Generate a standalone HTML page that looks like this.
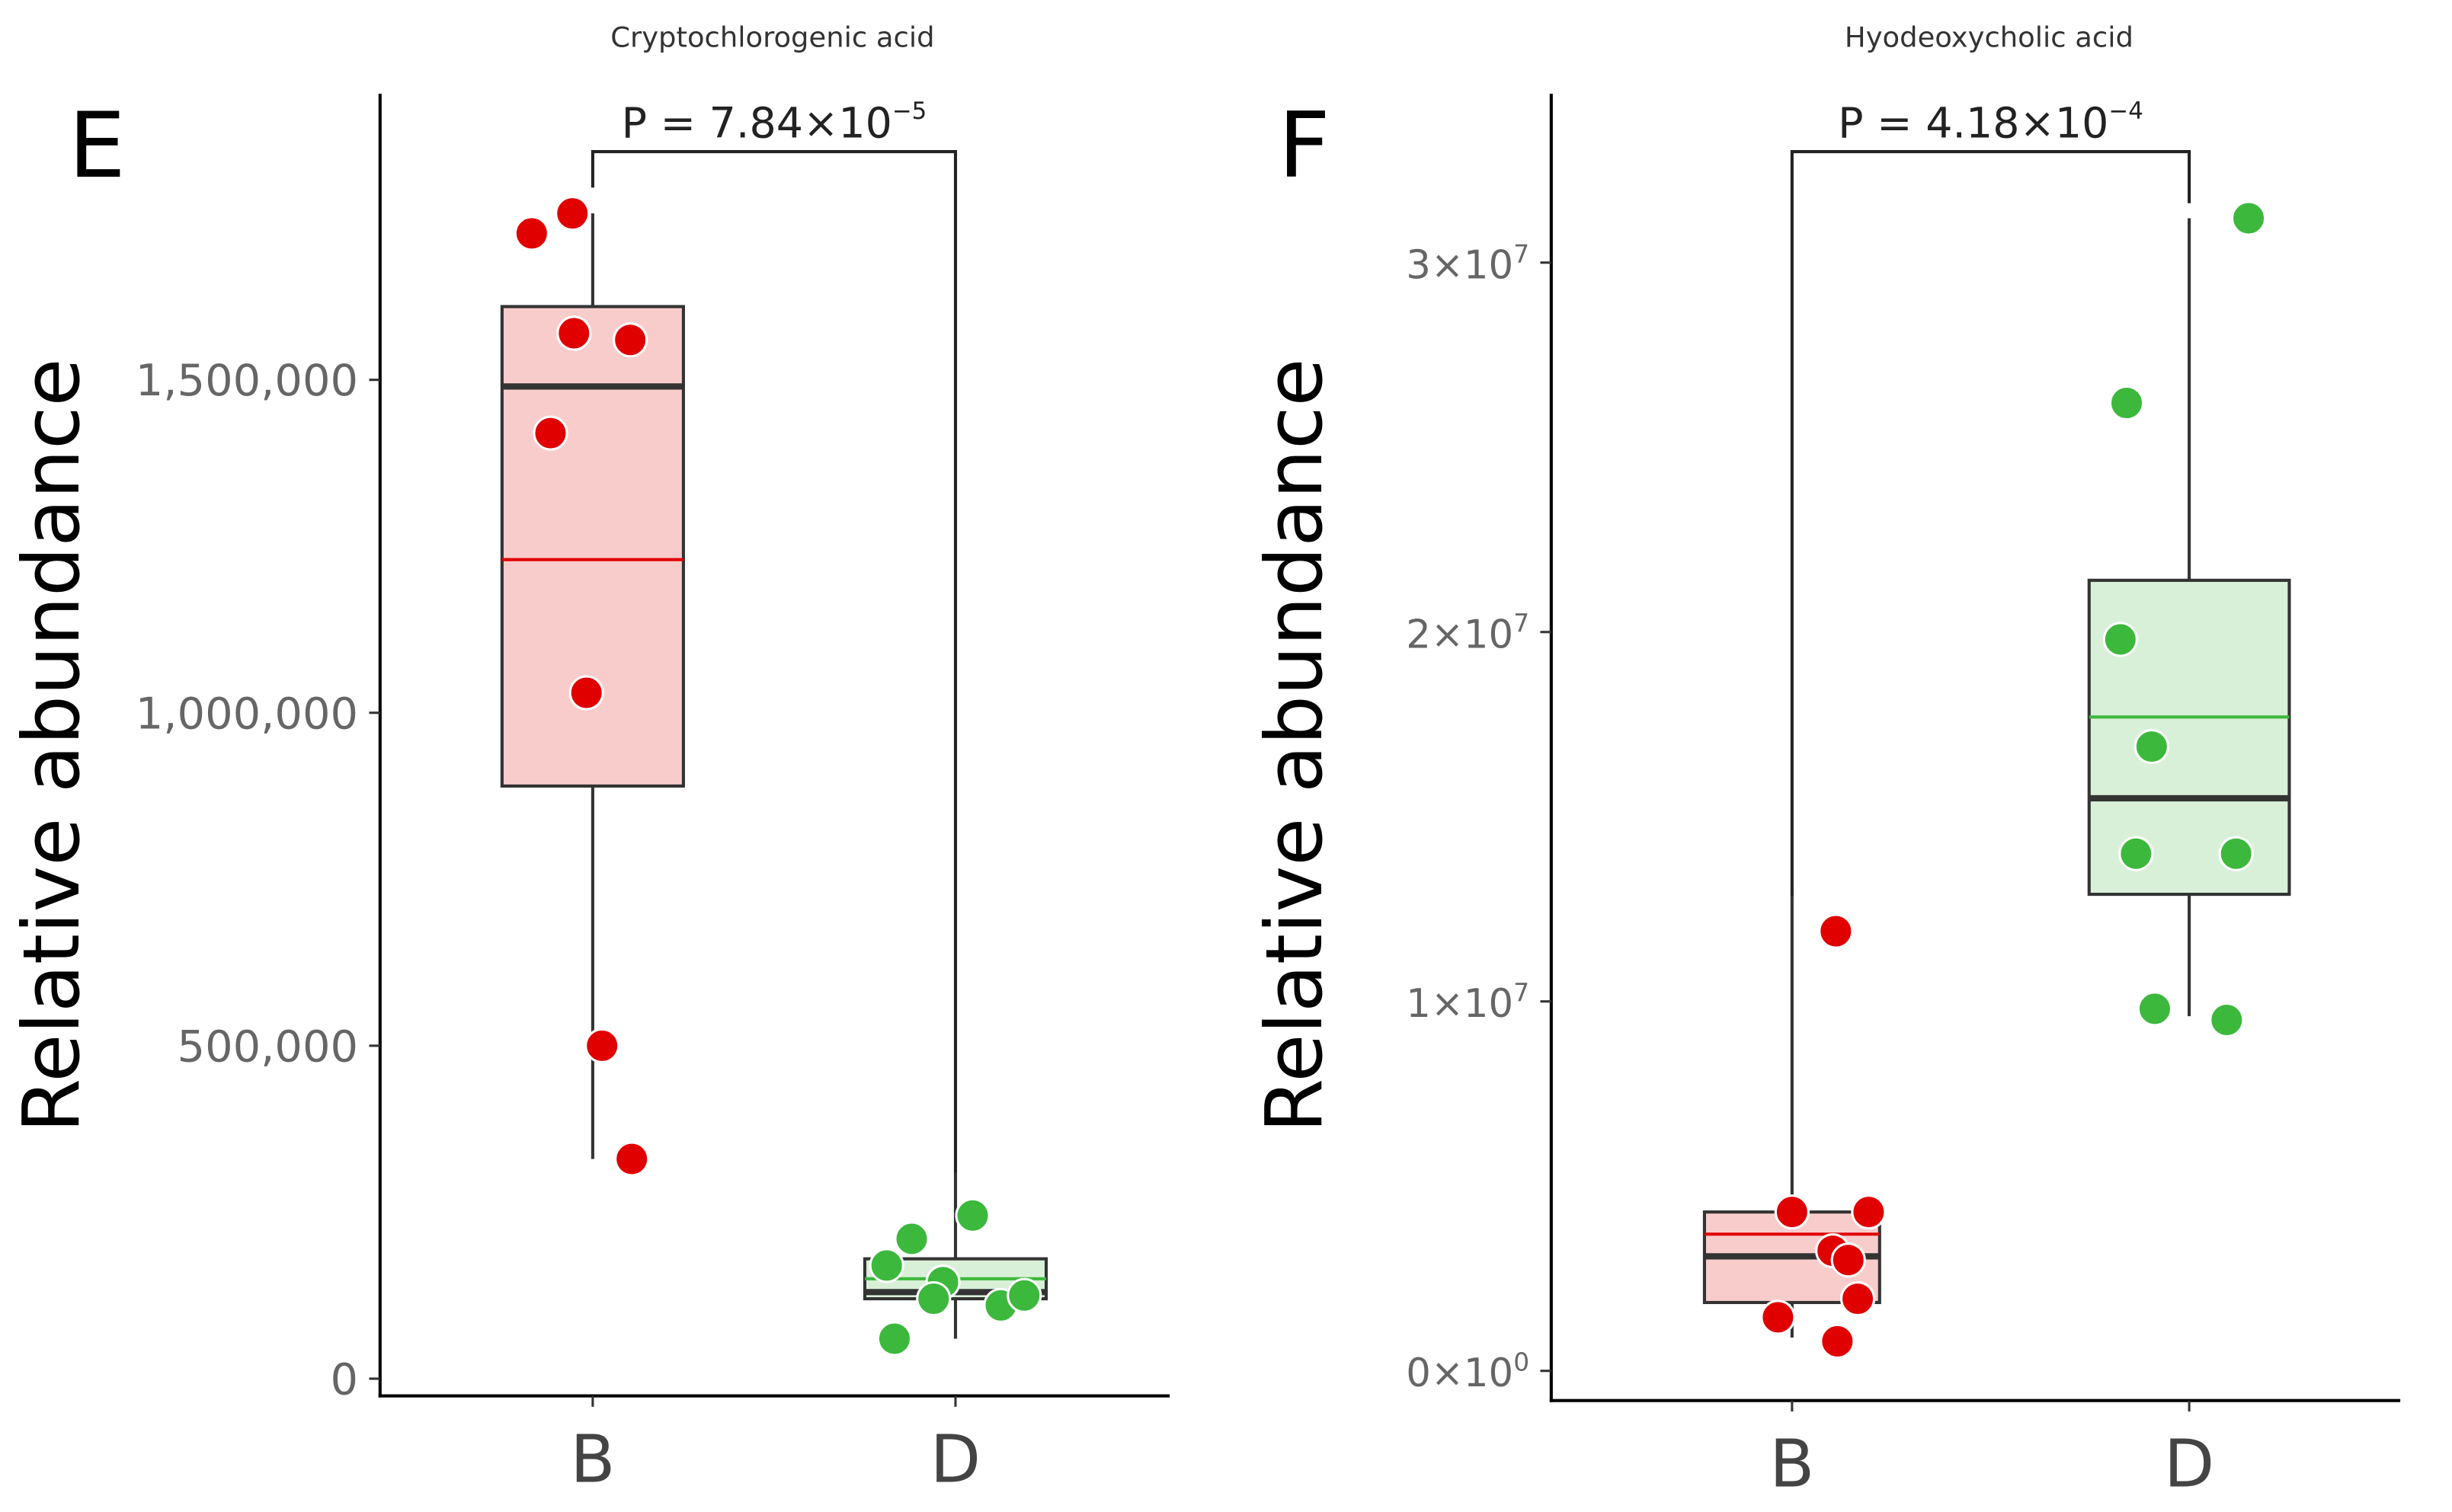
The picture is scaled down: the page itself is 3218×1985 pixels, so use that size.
<!DOCTYPE html>
<html><head><meta charset="utf-8"><style>
html,body{margin:0;padding:0;background:#fff;}
svg{display:block;font-family:"DejaVu Sans","Liberation Sans",sans-serif;}
</style></head><body>
<svg id="chart" width="3218" height="1985" viewBox="0 0 1568 967.3" xmlns="http://www.w3.org/2000/svg"></svg>
<script>
// Panel E data
const eCategories = ["B", "D"];
const eTicks = [0, 500000, 1000000, 1500000];
const eTickLabels = ["0", "500,000", "1,000,000", "1,500,000"];
const eBoxB = [330000, 890000, 1490000, 1610000, 1750000];
const eMeanB = 1230000;
const eBoxD = [60000, 120000, 130000, 180000, 310000];
const eMeanD = 150000;
const ePointsB = [1720000, 1750000, 1570000, 1560000, 1420000, 1030000, 500000, 330000];
const ePointsD = [245000, 210000, 170000, 145000, 120000, 110000, 125000, 60000];
// Panel F data
const fCategories = ["B", "D"];
const fTicks = [0, 10000000, 20000000, 30000000];
const fTickMant = ["0", "1", "2", "3"];
const fTickExp = ["0", "7", "7", "7"];
const fBoxB = [900000, 1850000, 3100000, 4300000, 12900000];
const fMeanB = 3700000;
const fBoxD = [9600000, 12900000, 15500000, 21400000, 31200000];
const fMeanD = 17700000;
const fPointsB = [11900000, 4300000, 4300000, 3250000, 3000000, 1950000, 1450000, 800000];
const fPointsD = [31200000, 26200000, 19800000, 16900000, 14000000, 14000000, 9800000, 9500000];

const NS = "http://www.w3.org/2000/svg";
const svg = document.getElementById("chart");
function mk(tag, attrs, parent) {
  const el = document.createElementNS(NS, tag);
  for (const k in attrs) el.setAttribute(k, attrs[k]);
  (parent || svg).appendChild(el);
  return el;
}

function panel(cfg) {
  const g = mk("g", {});
  
  
  const y = v => cfg.y0 + (v - 0) * (cfg.y1 - cfg.y0) / cfg.v1;
  const xc = i => cfg.xs[i];
  const ya = mk("line", {x1: cfg.ax, y1: cfg.top, x2: cfg.ax, y2: cfg.bot + 1, stroke: "#000", "stroke-width": 2}, g);
  
  
  const xa = mk("line", {x1: cfg.ax - 1, y1: cfg.bot, x2: cfg.right, y2: cfg.bot, stroke: "#000", "stroke-width": 2}, g);
  
  
  cfg.ticks.forEach((t, i) => {
    const ty = y(t);
    const tk = mk("line", {x1: cfg.ax - 7, y1: ty, x2: cfg.ax, y2: ty, stroke: "#333", "stroke-width": 1.5}, g);
    
    
    const tx = mk("text", {x: cfg.ax - 14, y: ty + 10, "text-anchor": "end", "font-size": cfg.exp ? 25 : 28, fill: "#666"}, g);
    
    
    if (cfg.exp) {
      tx.appendChild(document.createTextNode(cfg.labels[i] + "×10"));
      const s = mk("tspan", {"font-size": 16, dy: -10}, tx);
      s.textContent = cfg.exp[i];
    } else tx.textContent = cfg.labels[i];
  });
  cfg.cats.forEach((c, i) => {
    const tk = mk("line", {x1: xc(i), y1: cfg.bot, x2: xc(i), y2: cfg.bot + 7, stroke: "#333", "stroke-width": 1.5}, g);
    
    
    const tx = mk("text", {x: xc(i), y: cfg.bot + 55, "text-anchor": "middle", "font-size": 42, fill: "#444"}, g);
    
    
    tx.textContent = c;
  });
  cfg.boxes.forEach((b, i) => {
    const col = cfg.colors[i];
    const x = xc(i), hw = cfg.hw[i];
    const wh = mk("line", {x1: x, y1: y(b[0]), x2: x, y2: y(b[4]), stroke: "#333", "stroke-width": 2}, g);
    
    
    const r = mk("rect", {x: x - hw, y: y(b[3]), width: 2 * hw, height: y(b[1]) - y(b[3]), fill: col.fill, stroke: "#333", "stroke-width": 2}, g);
    
    
    const md = mk("line", {x1: x - hw, y1: y(b[2]), x2: x + hw, y2: y(b[2]), stroke: "#333", "stroke-width": 4}, g);
    
    
    const mn = mk("line", {x1: x - hw, y1: y(cfg.means[i]), x2: x + hw, y2: y(cfg.means[i]), stroke: col.pt, "stroke-width": 2}, g);
    
    
  });
  cfg.points.forEach((pts, i) => {
    pts.forEach((v, j) => {
      const c = mk("circle", {cx: xc(i) + cfg.jit[i][j], cy: y(v), r: 10.5, fill: cfg.colors[i].pt, stroke: "#fff", "stroke-width": 1.5}, g);
      
      
    });
  });
  const br = mk("polyline", {points: `${xc(0)},${cfg.bl} ${xc(0)},97 ${xc(1)},97 ${xc(1)},${cfg.br}`, fill: "none", stroke: "#222", "stroke-width": 2}, g);
  
  
  const pt = mk("text", {x: (xc(0) + xc(1)) / 2, y: 88, "text-anchor": "middle", "font-size": 27, fill: "#222"}, g);
  
  
  pt.appendChild(document.createTextNode(cfg.p));
  const ps = mk("tspan", {"font-size": 15, dy: -12}, pt);
  ps.textContent = cfg.pexp;
  const ti = mk("text", {x: cfg.tx, y: 30, "text-anchor": "middle", "font-size": 18, fill: "#333"}, g);
  
  
  ti.textContent = cfg.title;
  const lb = mk("text", {x: cfg.lx, y: 113, "text-anchor": "middle", "font-size": 58, fill: "#000"}, g);
  
  
  lb.textContent = cfg.letter;
  const yt = mk("text", {x: 0, y: 0, "text-anchor": "middle", "font-size": 50, fill: "#000", transform: `translate(${cfg.ytx},477) rotate(-90)`}, g);
  
  
  yt.textContent = "Relative abundance";
}

panel({name: "panel-e", y0: 882, y1: 243, v1: 1500000, ax: 243, top: 60, bot: 893, right: 748,
  xs: [379, 611], hw: [58, 58], cats: eCategories, ticks: eTicks, labels: eTickLabels,
  boxes: [eBoxB, eBoxD], means: [eMeanB, eMeanD],
  colors: [{fill: "#f9cccc", pt: "#e00000"}, {fill: "#d8f0d8", pt: "#3cb83c"}],
  points: [ePointsB, ePointsD],
  jit: [[-39, -13, -12, 24, -27, -4, 6, 25], [11, -28, -44, -8, -14, 29, 44, -39]],
  bl: 120, br: 750, p: "P = 7.84×10", pexp: "−5", title: "Cryptochlorogenic acid", tx: 494,
  letter: "E", lx: 62, ytx: 50});
panel({name: "panel-f", y0: 877, y1: 168, v1: 30000000, ax: 992, top: 60, bot: 896, right: 1535,
  xs: [1146, 1400], hw: [56, 64], cats: fCategories, ticks: fTicks, labels: fTickMant, exp: fTickExp,
  boxes: [fBoxB, fBoxD], means: [fMeanB, fMeanD],
  colors: [{fill: "#f9cccc", pt: "#e00000"}, {fill: "#d8f0d8", pt: "#3cb83c"}],
  points: [fPointsB, fPointsD],
  jit: [[28, 0, 49, 26, 36, 42, -9, 29], [38, -40, -44, -24, -34, 30, -22, 24]],
  bl: 573, br: 130, p: "P = 4.18×10", pexp: "−4", title: "Hyodeoxycholic acid", tx: 1272,
  letter: "F", lx: 834, ytx: 845});
</script>
</body></html>
